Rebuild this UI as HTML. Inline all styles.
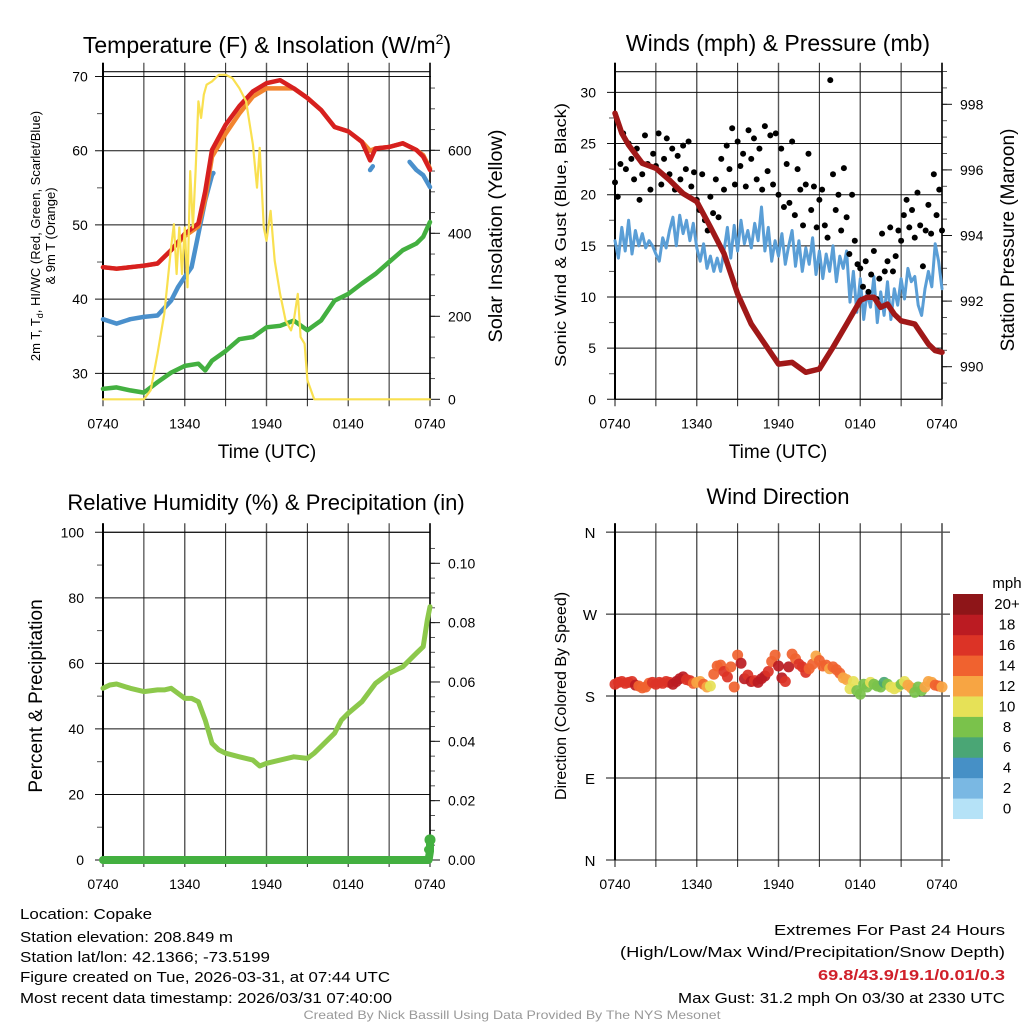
<!DOCTYPE html>
<html><head><meta charset="utf-8"><style>
html,body{margin:0;padding:0;background:#fff;}
svg{display:block;font-family:"Liberation Sans",sans-serif;}
</style></head><body>
<svg id="c" width="1024" height="1024" viewBox="0 0 1024 1024" xmlns="http://www.w3.org/2000/svg"></svg>
<script>
// ---------- DATA ----------
const tempTimes=[0,1,2,3,4,5,6,7,7.5,8,9,10,11,12,13,14,15,16,17,18,19,19.6,20,21,22,23,23.5,24];
const tempRed=[44.3,44.1,44.3,44.5,44.8,46.6,48.8,50.2,54.5,60.1,63.5,66,68,69.1,69.5,68.4,67.1,65.5,63.2,62.6,61.2,58.7,60.3,60.5,61,60.1,59.2,57.4];
const tempOrange=[44.3,44.1,44.3,44.5,44.8,46.6,48.5,49.8,53.5,59.2,62.3,65,67.3,68.4,68.4,68.4,67.1,65.5,63.2,62.6,61.2,60,60.3,60.5,61,60.1,59.4,57.6];
const wcTimesA=[0,1,2,3,4,5,5.5,6,6.5,7,7.5,8,8.1];
const wcValsA=[37.3,36.7,37.3,37.6,37.8,39.8,41.6,43,44.3,48.8,53.3,56.7,57];
const wcTimesB=[19.6,19.8];
const wcValsB=[57.4,57.9];
const wcTimesC=[22.5,23,23.5,24];
const wcValsC=[58.5,57.4,56.7,55.1];
const dewTimes=[0,1,2,3,4,5,6,7,7.5,8,9,10,11,12,13,14,15,16,17,18,19,20,21,22,23,23.5,24];
const dewVals=[27.9,28.1,27.7,27.4,28.8,30.1,31,31.3,30.4,31.7,33,34.6,34.9,36.2,36.4,37.1,35.8,37.1,39.8,40.7,42.1,43.4,45,46.6,47.5,48.4,50.4];
const solarTimes=[0,3,3.5,4,4.5,5,5.2,5.4,5.6,5.8,6,6.2,6.4,6.6,6.8,7,7.2,7.4,7.6,8,8.5,9,9.5,10,10.5,11,11.3,11.5,11.8,12,12.3,12.6,13,13.4,13.8,14,14.3,14.5,14.8,15,15.5,24];
const solarVals=[0,0,22,110,206,366,422,302,414,302,414,270,550,414,550,718,678,734,758,766,782,782,774,750,718,614,510,606,414,382,454,334,254,190,166,190,254,150,134,46,0,0];
const tempTicks=[30,40,50,60,70];
const solarTicks=[0,200,400,600];
const timeLabels=["0740","1340","1940","0140","0740"];

const presTimes=[0,0.5,1,2,3,4,5,6,7,8,9,10,11,12,13,14,15,16,17,18,18.5,19,19.5,20,20.5,21,22,23,23.5,24];
const presVals=[997.73,997.12,996.76,996.2,996.05,995.69,995.28,995.03,994.26,993.45,992.22,991.3,990.69,990.08,990.13,989.83,989.93,990.59,991.3,992.02,992.12,992.12,991.81,991.91,991.6,991.4,991.3,990.69,990.49,990.44];
const windVals=[15.5,13.8,16.8,14.5,17.5,14.2,16.5,15.0,16.2,14.8,15.5,15.0,14.2,
13.5,15.8,14.8,16.5,17.8,15.0,18.0,16.2,17.5,15.5,17.2,14.8,
13.5,15.2,12.8,14.0,12.5,13.8,12.5,14.5,
16.8,13.8,17.0,14.5,17.5,15.2,16.5,14.8,17.2,15.5,18.8,14.5,
16.8,13.5,15.5,14.0,16.2,13.2,15.0,16.5,
13.0,15.5,12.5,14.8,13.2,15.8,12.2,14.5,
11.8,14.2,12.5,15.0,11.5,14.0,12.8,14.5,
9.5,12.5,8.5,11.8,7.8,10.5,9.0,12.0,
7.5,10.5,8.2,11.5,7.8,10.8,9.2,11.8,
9.8,12.8,11.5,12.0,9.2,8.2,10.8,12.5,
11.0,15.2,13.5,10.8];
const gustVals=[21.2,19.8,23.0,26.0,22.5,25.0,23.5,21.5,24.5,19.5,22.0,25.8,23.0,20.5,24.0,22.8,26.0,21.0,23.5,25.5,22.0,24.5,20.5,23.8,21.5,24.8,22.5,25.2,20.8,22.2,
19.5,18.5,22.0,17.5,16.5,19.8,18.2,21.5,17.8,23.5,
20.5,24.8,22.5,26.5,21.0,25.2,22.8,24.0,20.8,26.3,23.5,25.5,21.5,24.5,20.5,26.7,22.3,25.8,21.0,26.0,
20.0,24.5,18.8,23.0,19.2,25.2,18.0,22.5,20.5,17.0,21.0,24.0,18.5,20.8,16.8,
19.5,20.5,17.0,15.8,31.2,22.0,18.5,20.0,16.5,22.6,17.8,14.2,20.0,15.5,13.2,
12.8,11.0,13.5,10.5,12.2,14.5,9.8,11.8,16.2,12.5,
13.5,16.8,12.5,14.0,16.5,15.5,18.0,19.5,16.8,18.5,
15.8,20.2,17.0,13.0,16.5,19.0,16.2,22.0,18.0,20.5,16.5];
const windTicks=[0,5,10,15,20,25,30];
const presTicks=[990,992,994,996,998];

const rhTimes=[0,0.5,1,2,3,4,4.5,5,6,6.5,7,7.5,8,8.5,9,10,11,11.5,12,13,14,15,15.5,16,17,17.5,18,19,20,21,22,23,23.5,23.8,24];
const rhVals=[52.4,53.4,53.7,52.4,51.4,51.9,51.9,52.4,49.3,49.3,48.3,42.7,35.6,33.6,32.6,31.5,30.5,28.7,29.5,30.5,31.5,31,32.6,34.6,38.7,42.7,44.8,48.3,53.9,57,59,63.1,65.1,73.2,77.3];
const precipTimes=[0,23.9,24,24];
const precipVals=[0,0,0.003,0.0055];
const rhTicks=[0,20,40,60,80,100];
const precipTicks=[0,0.02,0.04,0.06,0.08,0.10];

const dirVals=[193,195,196,194,195,196,192,191,189,190,194,195,193,
195,194,196,195,193,196,199,201,198,197,194,195,
196,193,190,191,204,213,214,207,
201,212,190,225,216,199,203,196,197,195,199,202,
207,218,225,213,200,196,212,226,
221,215,212,206,210,215,224,219,
213,214,210,212,209,205,200,198,
188,196,186,182,193,190,195,193,
191,190,195,193,190,188,190,193,
196,192,189,184,190,186,190,196,
195,192,191,190];
const dirSpeeds=[17,17,16,17,16,17,18,15,14,14,15,16,16,
16,17,16,16,18,19,19,18,17,17,15,12,
12,14,12,11,14,15,15,17,
16,15,14,14,18,18,17,19,17,18,18,18,
16,14,14,19,18,17,18,15,
14,16,17,16,14,14,13,14,
14,14,13,15,14,14,13,12,
11,10,9,8,9,8,10,9,
8,8,7,8,10,11,10,9,
11,12,12,8,8,9,12,13,
12,14,14,13];
const dirLabels=["N","E","S","W","N"];
const speedLabels=["0","2","4","6","8","10","12","14","16","18","20+"];
const speedColors=["#b5e2f7","#7ab8e3","#4690c6","#4aa675","#7ac24b","#e6e157","#f7a543","#f0622f","#dc3326","#bb1b22","#8e1518"];

// ---------- HELPERS ----------
const NS="http://www.w3.org/2000/svg";
const svg=document.getElementById('c');
function mk(tag,attrs,name,parent){
  const el=document.createElementNS(NS,tag);
  for(const k in attrs) el.setAttribute(k,attrs[k]);
  
  
  (parent||svg).appendChild(el);
  return el;
}
function txt(s,x,y,size,name,opts){
  opts=opts||{};
  const a={x:x,y:y,'font-size':size,fill:opts.fill||'#000','text-anchor':opts.anchor||'middle'};
  if(opts.weight) a['font-weight']=opts.weight;
  if(opts.rot!==undefined) a.transform='rotate('+opts.rot+' '+x+' '+y+')';
  if(opts.len){a.textLength=opts.len;a.lengthAdjust='spacingAndGlyphs';}
  const t=mk('text',a,name);
  t.textContent=s;
  return t;
}
function line(x1,y1,x2,y2,stroke,w,name){
  return mk('line',{x1:x1,y1:y1,x2:x2,y2:y2,stroke:stroke,'stroke-width':w},name);
}
function poly(ts,vs,xf,yf,stroke,w,name){
  const pts=ts.map((t,i)=>xf(t).toFixed(1)+','+yf(vs[i]).toFixed(1)).join(' ');
  return mk('polyline',{points:pts,fill:'none',stroke:stroke,'stroke-width':w,'stroke-linejoin':'round','stroke-linecap':'round'},name);
}
function frame(p,prefix){
  const xs=t=>p.x0+t*(p.x1-p.x0)/24;
  for(let h=0;h<=24;h+=3){
    line(xs(h),p.y0-9,xs(h),p.y1+7,h%6===0?'#555':'#222',h%6===0?1.4:1,prefix+'-vgrid');
  }
  timeLabels.forEach((s,i)=>txt(s,xs(i*6),p.y1+29,14,prefix+'-x-tick-label'));
  return xs;
}

// ---------- PANEL 1 ----------
const P1={x0:103,x1:430,y0:71.7,y1:399.3};
const x1s=frame(P1,'temp');
const yT=v=>399.3-(v-26.5)*7.42;
const yS=w=>399.3-w*0.415;
tempTicks.forEach(v=>{line(95,yT(v),P1.x1+1,yT(v),'#111',1,'temp-hgrid');txt(String(v),80,yT(v)+5,14,'temp-y-tick-label');});
[35,45,55,65].forEach(v=>line(97,yT(v),103,yT(v),'#555',1,'temp-minor-tick'));
for(let w=50;w<=750;w+=50){line(430,yS(w),435,yS(w),'#555',1,'solar-minor-tick');}
solarTicks.forEach(w=>{line(430,yS(w),440,yS(w),'#111',1,'solar-tick');txt(String(w),448,yS(w)+5,14,'solar-y-tick-label',{anchor:'start'});});
line(P1.x0,P1.y0,P1.x1,P1.y0,'#111',1.2,'temp-top-border');
line(P1.x0,P1.y1,P1.x1,P1.y1,'#111',1.2,'temp-bottom-border');
line(P1.x0,P1.y0-9,P1.x0,P1.y1,'#000',2,'temp-left-axis');
line(P1.x1,P1.y0-9,P1.x1,P1.y1,'#000',1.5,'temp-right-axis');
poly(dewTimes,dewVals,x1s,yT,'#43b040',4.5,'dewpoint-line');
poly(wcTimesA,wcValsA,x1s,yT,'#4a90cc',4.5,'windchill-line');
poly(wcTimesB,wcValsB,x1s,yT,'#4a90cc',4.5,'windchill-line-b');
poly(wcTimesC,wcValsC,x1s,yT,'#4a90cc',4.5,'windchill-line-c');
poly(tempTimes,tempOrange,x1s,yT,'#f2842e',4.5,'temp-9m-line');
poly(tempTimes,tempRed,x1s,yT,'#d7201f',4.5,'temp-2m-line');
poly(solarTimes,solarVals,x1s,yS,'#f9e050',2.2,'solar-line');
mk('text',{x:267,y:53,'font-size':23,'text-anchor':'middle'},'temp-title').innerHTML='Temperature (F) &amp; Insolation (W/m<tspan font-size="14" dy="-9">2</tspan><tspan dy="9">)</tspan>';
txt('Time (UTC)',267,458,19,'temp-x-axis-title');
txt('Solar Insolation (Yellow)',502,236,19,'solar-y-axis-title',{rot:-90,len:213});
mk('text',{x:40,y:236,'font-size':13,'text-anchor':'middle',transform:'rotate(-90 40 236)'},'temp-y-axis-title').innerHTML='2m T, T<tspan font-size="9" dy="3">d</tspan><tspan dy="-3">, HI/WC (Red, Green, Scarlet/Blue)</tspan>';
txt('& 9m T (Orange)',55,236,13,'temp-y-axis-title-2',{rot:-90});

// ---------- PANEL 2 ----------
const P2={x0:615,x1:942,y0:71.7,y1:399.3};
const x2s=frame(P2,'wind');
const yW=v=>399.3-v*10.23;
const yP=p=>366.7-(p-990)*32.8;
windTicks.forEach(v=>{line(607,yW(v),P2.x1,yW(v),'#111',1,'wind-hgrid');txt(String(v),596,yW(v)+5,14,'wind-y-tick-label',{anchor:'end'});});
[2.5,7.5,12.5,17.5,22.5,27.5].forEach(v=>line(609,yW(v),615,yW(v),'#555',1,'wind-minor-tick'));
for(let p=989.5;p<=999;p+=0.5){line(942,yP(p),947,yP(p),'#555',1,'pres-minor-tick');}
presTicks.forEach(p=>{line(942,yP(p),952,yP(p),'#111',1,'pres-tick');txt(String(p),960,yP(p)+5,14,'pres-y-tick-label',{anchor:'start'});});
line(P2.x0,P2.y0,P2.x1,P2.y0,'#111',1.2,'wind-top-border');
line(P2.x0,P2.y1,P2.x1,P2.y1,'#111',1.2,'wind-bottom-border');
line(P2.x0,P2.y0-9,P2.x0,P2.y1,'#000',2,'wind-left-axis');
line(P2.x1,P2.y0-9,P2.x1,P2.y1,'#000',1.5,'wind-right-axis');
const windTimes=windVals.map((v,i)=>i*0.25);
poly(windTimes,windVals,x2s,yW,'#5a9ed6',3,'sustained-wind-line');
gustVals.forEach((g,i)=>{
  const c=mk('circle',{cx:x2s(i*0.2),cy:yW(g),r:3,fill:'#000'},'gust-dot');
});
poly(presTimes,presVals,x2s,yP,'#a01818',5.5,'pressure-line');
txt('Winds (mph) & Pressure (mb)',778,51,23,'wind-title');
txt('Time (UTC)',778,458,19,'wind-x-axis-title');
txt('Sonic Wind & Gust (Blue, Black)',566,235,16,'wind-y-axis-title',{rot:-90,len:264});
txt('Station Pressure (Maroon)',1014,240,19,'pres-y-axis-title',{rot:-90});

// ---------- PANEL 3 ----------
const P3={x0:103,x1:430,y0:532.3,y1:860};
const x3s=frame(P3,'rh');
const yR=v=>860-v*3.277;
const yPr=p=>860-p*2967;
rhTicks.forEach(v=>{line(95,yR(v),P3.x1,yR(v),'#111',1,'rh-hgrid');txt(String(v),84,yR(v)+5,14,'rh-y-tick-label',{anchor:'end'});});
[10,30,50,70,90].forEach(v=>line(97,yR(v),103,yR(v),'#555',1,'rh-minor-tick'));
for(let p=0.005;p<0.11;p+=0.005){line(430,yPr(p),435,yPr(p),'#555',1,'precip-minor-tick');}
precipTicks.forEach(p=>{line(430,yPr(p),440,yPr(p),'#111',1,'precip-tick');txt(p.toFixed(2),448,yPr(p)+5,14,'precip-y-tick-label',{anchor:'start'});});
line(P3.x0,P3.y0,P3.x1,P3.y0,'#111',1.2,'rh-top-border');
line(P3.x0,P3.y0-9,P3.x0,P3.y1,'#000',2,'rh-left-axis');
line(P3.x1,P3.y0-9,P3.x1,P3.y1,'#000',1.5,'rh-right-axis');
poly(rhTimes,rhVals,x3s,yR,'#8cc84b',5,'rh-line');
poly(precipTimes,precipVals,x3s,yPr,'#43b040',8,'precip-line');
mk('circle',{cx:x3s(24),cy:yPr(0.0068),r:5.5,fill:'#43b040'},'precip-dot');
mk('circle',{cx:x3s(24)-2,cy:yPr(0.0035),r:4,fill:'#43b040'},'precip-dot');
txt('Relative Humidity (%) & Precipitation (in)',266,510,22,'rh-title');
txt('Percent & Precipitation',42,696,19,'rh-y-axis-title',{rot:-90});

// ---------- PANEL 4 ----------
const P4={x0:615,x1:942,y0:532.3,y1:860};
const x4s=frame(P4,'dir');
const yD=d=>860-d*0.9108;
dirLabels.forEach((s,i)=>{line(606,yD(i*90),950,yD(i*90),'#111',1,'dir-hgrid');txt(s,590,yD(i*90)+6,15,'dir-y-tick-label');});
line(P4.x0,P4.y0-9,P4.x0,P4.y1,'#000',2,'dir-left-axis');
line(P4.x1,P4.y0-9,P4.x1,P4.y1,'#555',1.4,'dir-right-axis');
function speedColor(s){return speedColors[Math.min(10,Math.max(0,Math.floor(s/2)))];}
dirVals.forEach((d,i)=>{
  const c=mk('circle',{cx:x4s(i*0.25),cy:yD(d),r:5.5,fill:speedColor(dirSpeeds[i]),'fill-opacity':0.92},'dir-dot');
});
txt('Wind Direction',778,504,22,'dir-title');
txt('Direction (Colored By Speed)',566,696,16,'dir-y-axis-title',{rot:-90});
const cbTop=594,cbH=20.43;
speedLabels.forEach((s,i)=>{
  const k=10-i;
  mk('rect',{x:953,y:cbTop+k*cbH,width:30,height:cbH+0.3,fill:speedColors[i]},'colorbar-box');
  txt(s,1007,cbTop+k*cbH+cbH/2+5,15,'colorbar-label');
});
txt('mph',1007,588,15,'colorbar-title');

// ---------- FOOTER ----------
const fl=[['Location: Copake',132],['Station elevation: 208.849 m',213],['Station lat/lon: 42.1366; -73.5199',250],['Figure created on Tue, 2026-03-31, at 07:44 UTC',370],['Most recent data timestamp: 2026/03/31 07:40:00',372]];
const fy=[919,942,962,982,1003];
fl.forEach((l,i)=>txt(l[0],20,fy[i],15,'footer-info-line',{anchor:'start',len:l[1]}));
txt('Extremes For Past 24 Hours',1005,935,15,'extremes-heading',{anchor:'end',len:231});
txt('(High/Low/Max Wind/Precipitation/Snow Depth)',1005,957,15,'extremes-subheading',{anchor:'end',len:385});
txt('69.8/43.9/19.1/0.01/0.3',1005,980,15,'extremes-values',{anchor:'end',len:187,fill:'#d0202a',weight:'bold'});
txt('Max Gust: 31.2 mph On 03/30 at 2330 UTC',1005,1003,15,'max-gust-line',{anchor:'end',len:327});
txt('Created By Nick Bassill Using Data Provided By The NYS Mesonet',512,1019,12,'credit-line',{fill:'#999',len:417});
</script>
</body></html>
